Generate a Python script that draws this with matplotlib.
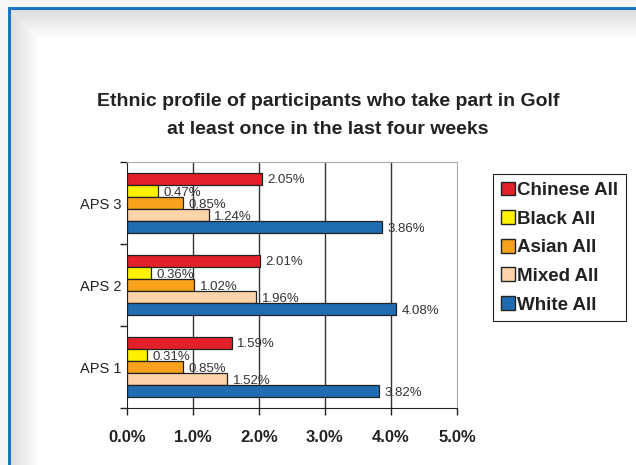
import numpy as np
import matplotlib as mpl
mpl.use('Agg')
import matplotlib.pyplot as plt
from matplotlib.patches import Patch

plt.rcParams['font.family'] = ['Liberation Sans', 'DejaVu Sans']

categories = ['APS 1', 'APS 2', 'APS 3']
series = ['Chinese All', 'Black All', 'Asian All', 'Mixed All', 'White All']
chinese = [1.59, 2.01, 2.05]
black = [0.31, 0.36, 0.47]
asian = [0.85, 1.02, 0.85]
mixed = [1.52, 1.96, 1.24]
white = [3.82, 4.08, 3.86]
xticks = [0, 1, 2, 3, 4, 5]

values = [chinese, black, asian, mixed, white]
colors = ['#e3202a', '#fff200', '#f7a11c', '#fdd4aa', '#1f6db0']

W, H = 636, 465
fig = plt.figure(figsize=(W/100.0, H/100.0), dpi=100)

# frame background: grey margin, blue border line, soft inner shadow
yy, xx = np.mgrid[0:H, 0:W]
shade = np.minimum(np.clip((yy-11)/28.0, 0, 1), np.clip((xx-11)/28.0, 0, 1))
g = 0.87 + 0.13*shade
bg = np.dstack([g, g, g])
outside = (yy < 8) | (xx < 8)
bg[outside] = 0.965
border = ((yy >= 8) & (yy <= 10) & (xx >= 8)) | ((xx >= 8) & (xx <= 10) & (yy >= 8))
bg[border] = np.array([0x1a, 0x76, 0xc4])/255.0
axbg = fig.add_axes([0, 0, 1, 1], zorder=-5)
axbg.imshow(bg, aspect='auto', interpolation='bilinear')
axbg.axis('off')

ax = fig.add_axes([127/W, 1-408/H, 330/W, 246/H])
ax.set_facecolor('white')

ypos = np.arange(len(categories))
step = 0.148
for i, (name, vals, c) in enumerate(zip(series, values, colors)):
    off = (2 - i)*step
    ax.barh(ypos + off, vals, height=step, color=c, edgecolor='#222222', lw=0.9, zorder=3)
    for y, v in zip(ypos, vals):
        ax.text(v + 0.08, y + off - 0.02, '%.2f%%' % v, fontsize=9.5, color='#333333',
                ha='left', va='center', zorder=4)

ax.set_xlim(0, 5)
ax.set_ylim(-0.5, 2.5)
ax.set_xticks(xticks)
ax.set_xticklabels(['%.1f%%' % t for t in xticks], fontsize=12, fontweight='bold', color='#222222')
ax.set_yticks([-0.5, 0.5, 1.5, 2.5])
ax.set_yticklabels([])
ax.set_yticks(ypos, minor=True)
ax.set_yticklabels(categories, minor=True, fontsize=10.5, color='#222222')
ax.tick_params(axis='y', which='minor', length=0, pad=4)
ax.tick_params(axis='both', which='major', direction='out', length=5, width=1, color='#222222')
ax.tick_params(axis='x', pad=11)
for t in [1, 2, 3, 4]:
    ax.axvline(t, color='#333333', lw=1, zorder=1)
ax.spines['left'].set_color('#222222')
ax.spines['bottom'].set_color('#222222')
ax.spines['top'].set_color('#aaaaaa')
ax.spines['right'].set_color('#aaaaaa')

fig.text(328/W, 1-101/H, 'Ethnic profile of participants who take part in Golf',
         ha='center', va='center', fontsize=14, fontweight='bold', color='#222222')
fig.text(328/W, 1-129/H, 'at least once in the last four weeks',
         ha='center', va='center', fontsize=14, fontweight='bold', color='#222222')

handles = [Patch(facecolor=c, edgecolor='#222222', lw=1) for c in colors]
leg = fig.legend(handles, series, loc='upper left', bbox_to_anchor=(493/W, 1-174/H),
                 frameon=True, fancybox=False, edgecolor='#222222', framealpha=1,
                 prop={'size': 13.5, 'weight': 'bold'}, handlelength=0.75, handleheight=0.75,
                 handletextpad=0.15, labelspacing=0.6, borderpad=0.4, borderaxespad=0)
leg.get_frame().set_linewidth(0.8)
for t in leg.get_texts():
    t.set_color('#222222')

fig.savefig('out.png', dpi=100)
